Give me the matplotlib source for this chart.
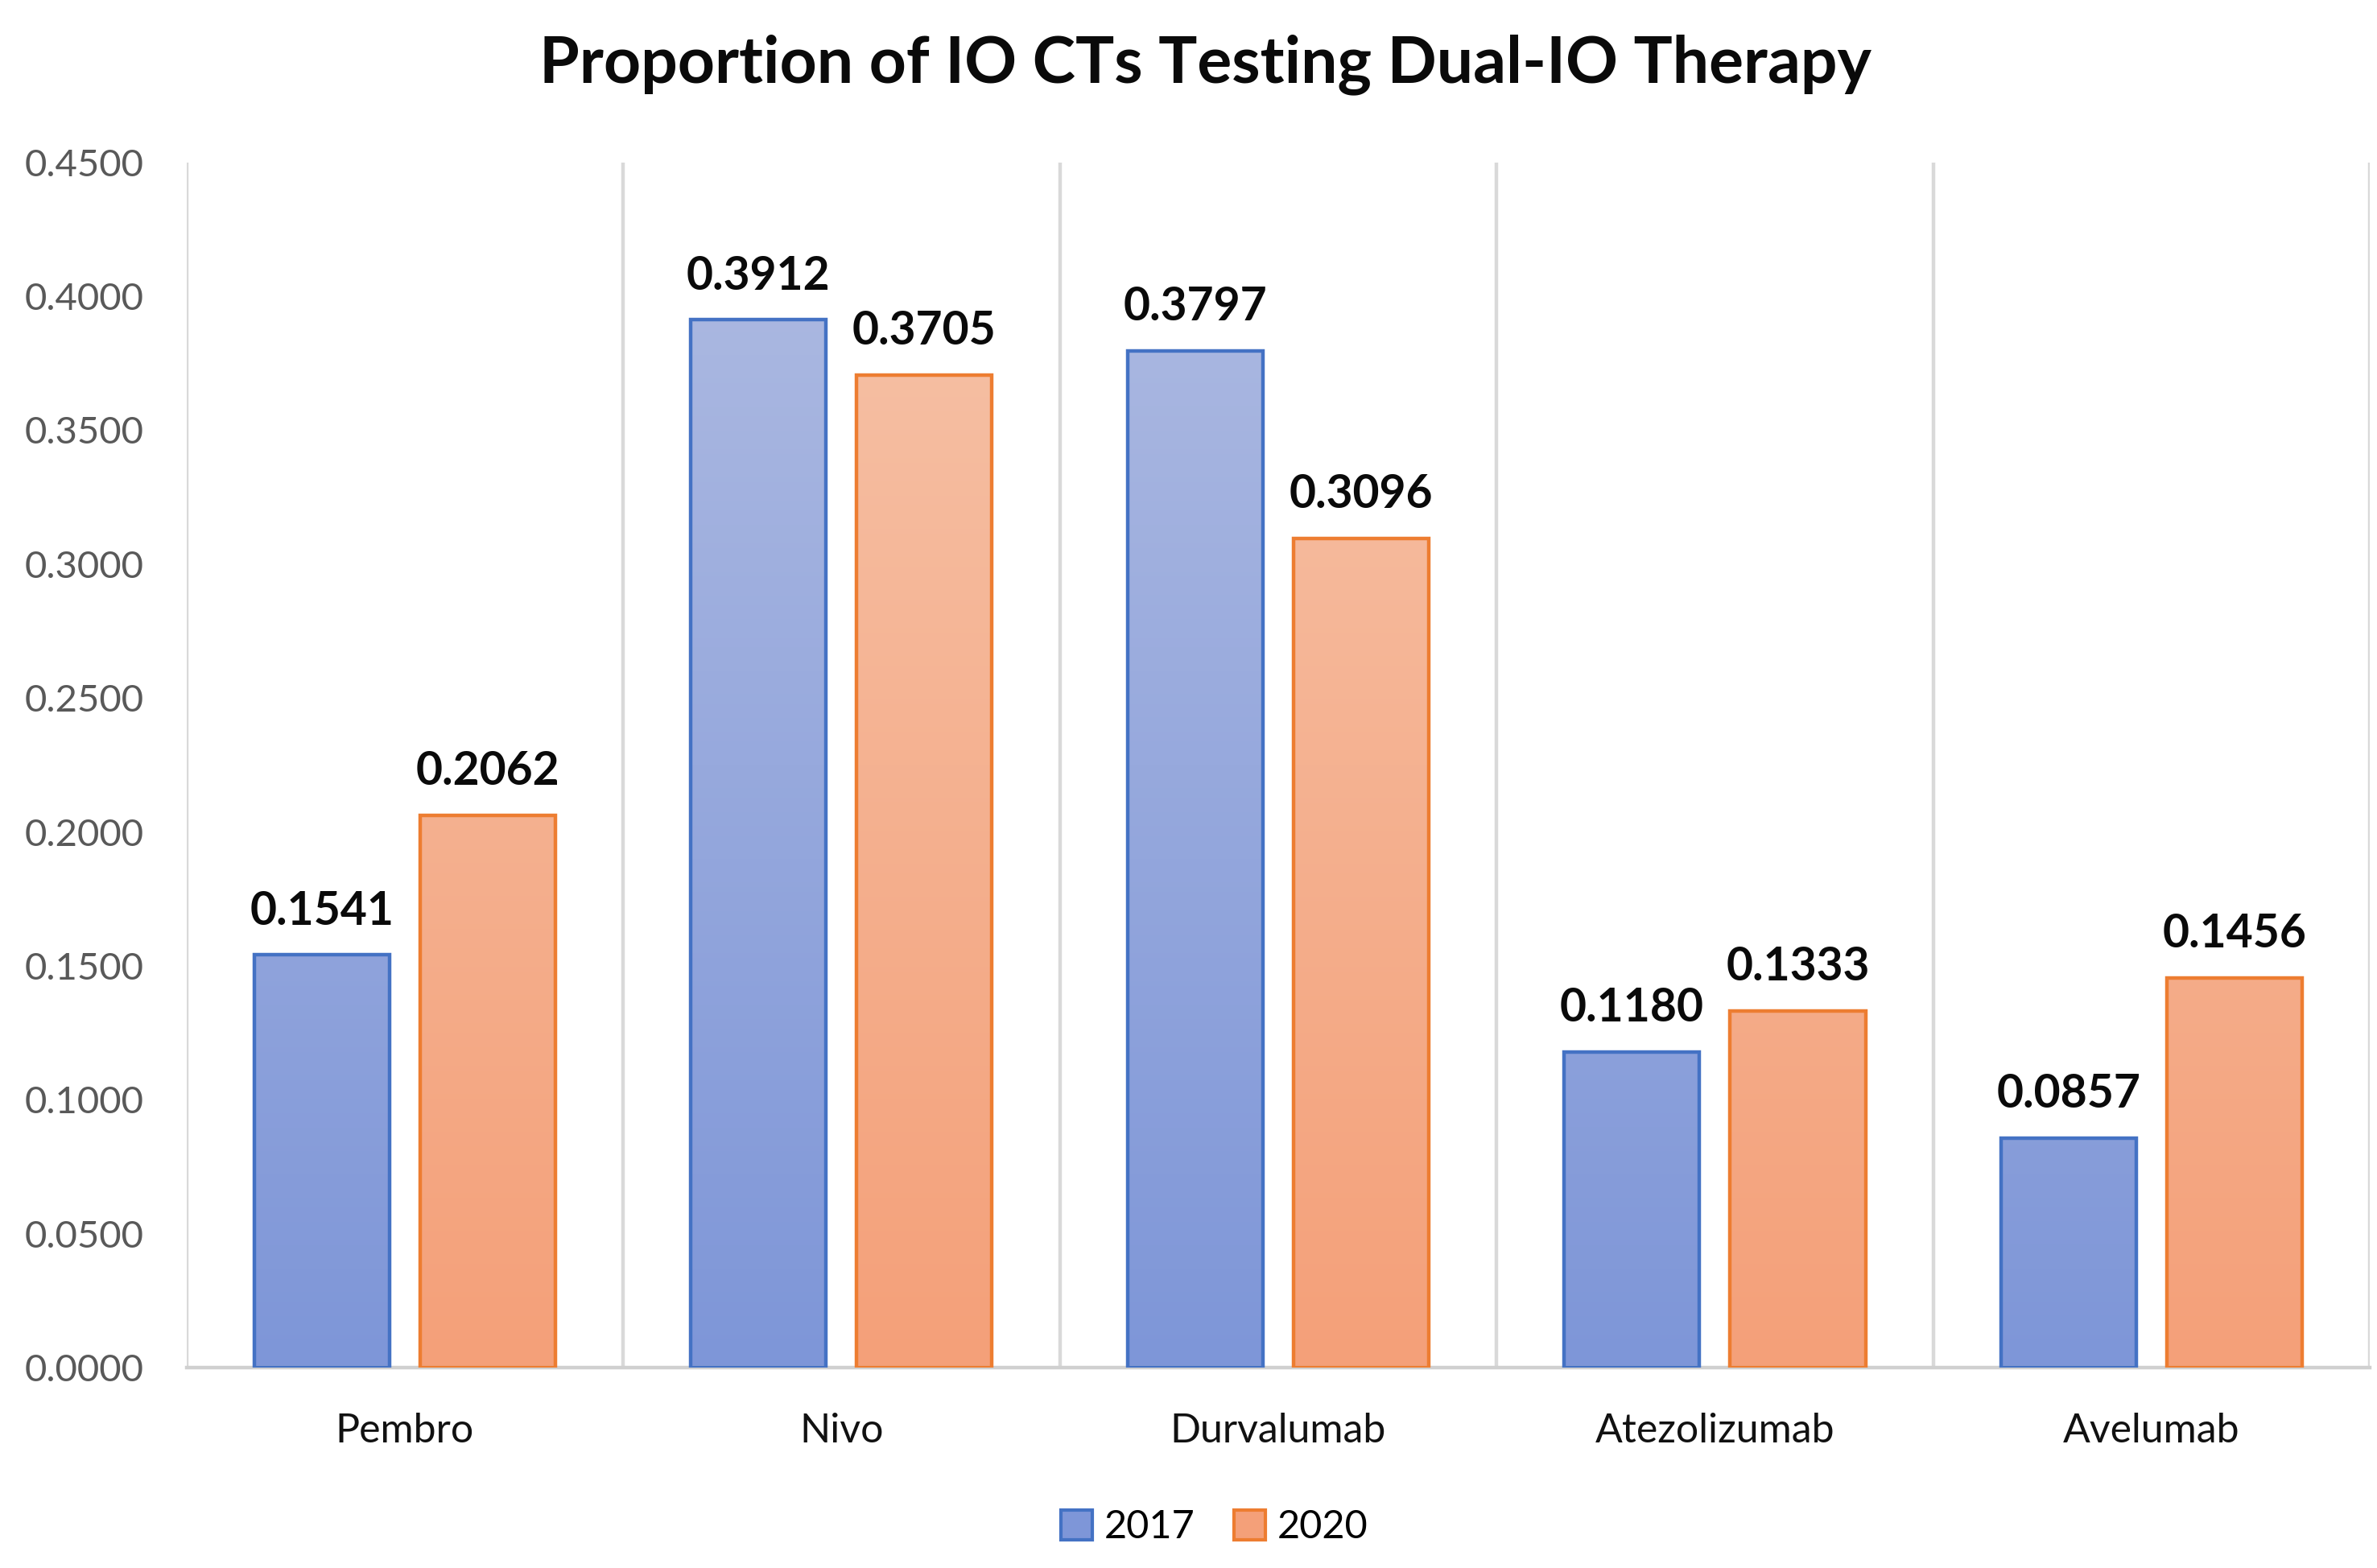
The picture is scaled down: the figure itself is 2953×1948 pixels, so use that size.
import numpy as np
import matplotlib
matplotlib.use("Agg")
import matplotlib.pyplot as plt
from matplotlib.patches import Patch
from matplotlib.colors import LinearSegmentedColormap

# ---------------------------------------------------------------------------
# Data
# ---------------------------------------------------------------------------
CATEGORIES = ["Pembro", "Nivo", "Durvalumab", "Atezolizumab", "Avelumab"]
SERIES = ["2017", "2020"]
VALS_2017 = [0.1541, 0.3912, 0.3797, 0.1180, 0.0857]
VALS_2020 = [0.2062, 0.3705, 0.3096, 0.1333, 0.1456]
YTICKS = [0.0, 0.05, 0.10, 0.15, 0.20, 0.25, 0.30, 0.35, 0.40, 0.45]

plt.rcParams["font.family"] = ["Lato", "DejaVu Sans"]

# (top colour, bottom colour, edge colour)
STYLES = {
    "2017": ("#b0bce2", "#7e96d8", "#4472c4"),
    "2020": ("#f6c4aa", "#f4a079", "#ed7d31"),
}

fig = plt.figure(figsize=(14.765, 9.74), dpi=200)
ax = fig.add_axes([0.0784, 0.1277, 0.9186, 0.7688])

x = np.arange(len(CATEGORIES))
width = 0.31
offset = 0.19


def gradient_bars(xpos, vals, top_c, bot_c, edge_c):
    cmap = LinearSegmentedColormap.from_list("g", [bot_c, top_c])
    grad = np.linspace(0, 1, 256).reshape(-1, 1)
    bars = ax.bar(xpos, vals, width, facecolor="none", edgecolor=edge_c,
                  linewidth=1.6, zorder=3)
    for b in bars:
        bx, by = b.get_x(), b.get_y()
        bw = b.get_width()
        im = ax.imshow(grad, cmap=cmap, aspect="auto", origin="lower",
                       extent=[bx, bx + bw, by, by + 0.45], zorder=2)
        im.set_clip_path(b)
    for xi, v in zip(xpos, vals):
        ax.annotate(f"{v:.4f}", (xi, v), xytext=(0, 10), textcoords="offset points",
                    ha="center", va="bottom", fontsize=20.5, fontweight="bold",
                    color="#0a0a0a", zorder=4)
    return bars


gradient_bars(x - offset, VALS_2017, *STYLES["2017"])
gradient_bars(x + offset, VALS_2020, *STYLES["2020"])

ax.set_xlim(-0.5, len(CATEGORIES) - 0.5)
ax.set_ylim(0, 0.45)
ax.set_yticks(YTICKS)
ax.set_yticklabels([f"{t:.4f}" for t in YTICKS], fontsize=17, color="#595959")
ax.set_xticks(x)
ax.set_xticklabels(CATEGORIES, fontsize=18, color="#111111")
ax.tick_params(axis="both", length=0)
ax.tick_params(axis="y", pad=19)
ax.tick_params(axis="x", pad=20)

# vertical separators between categories
for b in np.arange(-0.5, len(CATEGORIES), 1.0):
    ax.axvline(b, color="#d9d9d9", linewidth=1.6, zorder=1)

for s in ["top", "right", "left"]:
    ax.spines[s].set_visible(False)
ax.spines["bottom"].set_color("#d0d0d0")
ax.spines["bottom"].set_linewidth(1.6)

fig.text(0.507, 0.959, "Proportion of IO CTs Testing Dual-IO Therapy",
         ha="center", va="center", fontsize=29, fontweight="bold", color="#0a0a0a")

handles = [Patch(facecolor=STYLES[s][1], edgecolor=STYLES[s][2], linewidth=1.5)
           for s in SERIES]
fig.legend(handles, SERIES, loc="center", bbox_to_anchor=(0.511, 0.026), ncol=2,
           frameon=False, fontsize=17.5, handlelength=0.8, handleheight=0.8,
           handletextpad=0.3, columnspacing=1.0)

fig.savefig("out.png", dpi=200)
